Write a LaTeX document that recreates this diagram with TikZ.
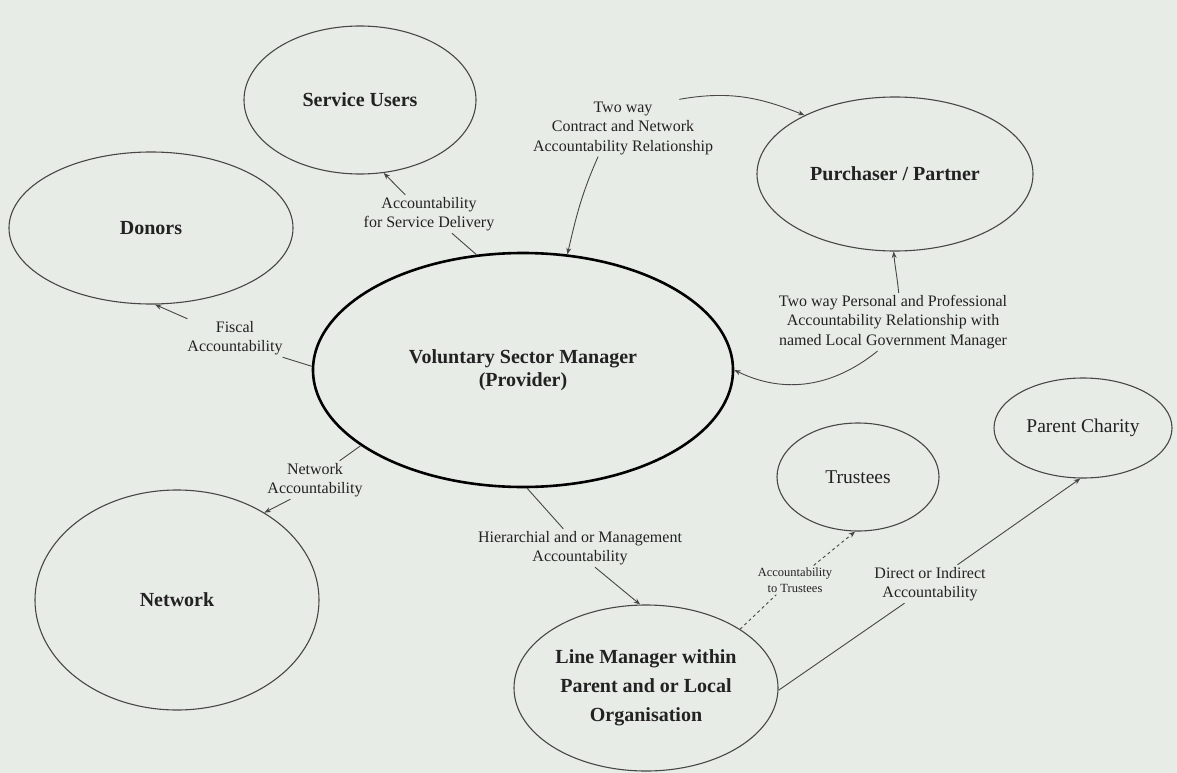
\documentclass[tikz,border=0pt]{standalone}
\usepackage{fontspec}
\setmainfont{Liberation Serif}
\usetikzlibrary{arrows.meta,shapes.geometric}
\definecolor{bg}{HTML}{E8ECE6}
\definecolor{ink}{HTML}{222222}
\definecolor{edgec}{HTML}{474747}
\tikzset{
  ent/.style={ellipse, draw=edgec, line width=1.1pt, inner sep=0pt, text=ink, align=center},
  bigf/.style={font=\fontsize{20}{23}\selectfont\bfseries},
  regf/.style={font=\fontsize{19.5}{23}\selectfont},
  lab/.style={inner sep=2pt, text=ink, align=center, font=\fontsize{16}{19.5}\selectfont},
  smalllab/.style={inner sep=2pt, text=ink, align=center, font=\fontsize{12.5}{16}\selectfont},
  conn/.style={draw=edgec, line width=0.9pt},
  arr/.style={conn, -{Stealth[length=6.5pt,width=5pt]}},
}
\begin{document}
\begin{tikzpicture}[x=1pt,y=-1pt]
\fill[bg] (0,0) rectangle (1177,773);
\useasboundingbox (0,0) rectangle (1177,773);
% entities
\node[ent,bigf,minimum width=232pt,minimum height=148pt] (su) at (360,100) {Service Users};
\node[ent,bigf,minimum width=284pt,minimum height=152pt] (donors) at (151,228) {Donors};
\node[ent,bigf,minimum width=276pt,minimum height=154pt] (pp) at (895,174) {Purchaser / Partner};
\node[ent,bigf,draw=black,line width=2.6pt,minimum width=420pt,minimum height=234pt] (main) at (523,370) {Voluntary Sector Manager\\(Provider)};
\node[ent,bigf,minimum width=284pt,minimum height=220pt] (network) at (177,600) {Network};
\node[ent,regf,minimum width=162pt,minimum height=108pt] (tr) at (858,477) {Trustees};
\node[ent,regf,minimum width=178pt,minimum height=100pt] (pc) at (1083,428) {Parent Charity};
\node[ent,bigf,font=\fontsize{20}{29}\selectfont\bfseries,minimum width=264pt,minimum height=166pt] (lm) at (646,688) {Line Manager within\\Parent and or Local\\Organisation};
% labels
\node[lab] (svclab) at (429,214) {Accountability\\for Service Delivery};
\node[lab] (fislab) at (235,338) {Fiscal\\Accountability};
\node[lab] (netlab) at (315,480) {Network\\Accountability};
\node[lab] (hlab) at (580,548) {Hierarchial and or Management\\Accountability};
\node[lab] (tclab) at (623,128) {Two way\\Contract and Network\\Accountability Relationship};
\node[lab] (pplab) at (893,322) {Two way Personal and Professional\\Accountability Relationship with\\named Local Government Manager};
\node[lab] (dilab) at (930,584) {Direct or Indirect\\Accountability};
\node[smalllab] (trlab) at (795,580) {Accountability\\to Trustees};
% connectors
\draw[conn] (main.112) -- (svclab.-40);
\draw[arr] (svclab.141) -- (su.-72);
\draw[conn] (main.179) -- (fislab.-22);
\draw[arr] (fislab.158) -- (donors.-87);
\draw[conn] (main.205) -- (netlab.38);
\draw[arr] (netlab.218) -- (network.45);
\draw[conn] (main.-88) -- (hlab.131);
\draw[arr] (hlab.-52) -- (lm.94);
\draw[conn] (lm.-1) -- (dilab.217);
\draw[arr] (dilab.35) -- (pc.-93);
\draw[conn,dashed] (lm.32) -- (trlab.218);
\draw[arr,dashed] (trlab.38) -- (tr.-93);
\draw[arr] (tclab.229) to[out=-114,in=77] (main.69);
\draw[arr] (tclab.27) to[out=10,in=158] (pp.147);
\draw[arr] (pplab.79) to[out=95,in=-85] (pp.-91);
\draw[arr] (pplab.242) to[out=-141,in=-26] (main.0);
\end{tikzpicture}
\end{document}
